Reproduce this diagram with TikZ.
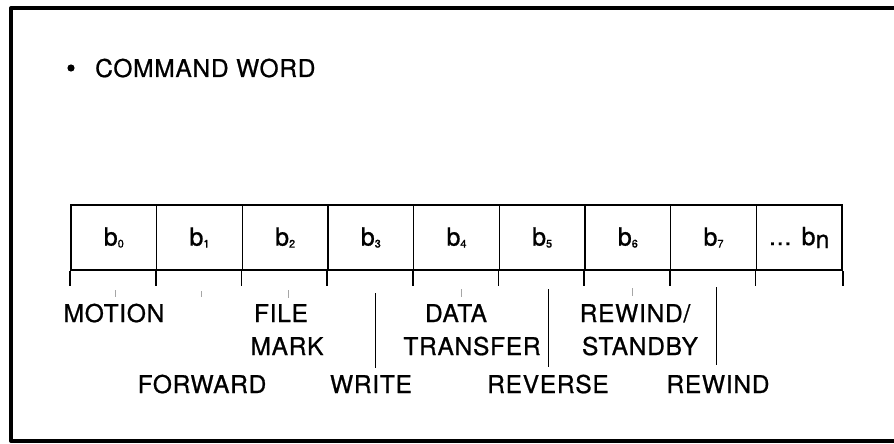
\documentclass[tikz,border=0pt]{standalone}
\usepackage{fontspec}
\setmainfont{TeX Gyre Heros}[LetterSpace=3,FakeBold=0.8]
\begin{document}
\begin{tikzpicture}[x=1pt,y=-1pt,
  frame/.style={line width=4pt,line join=round,line cap=round},
  cell/.style={draw,line width=1.6pt,minimum width=85.67pt,minimum height=65pt,inner sep=0pt,font=\fontsize{25}{30}\selectfont},
  lbl/.style={anchor=base,inner sep=0pt,font=\fontsize{24.5}{30}\selectfont},
  sep/.style={line width=0.8pt},
  faint/.style={line width=0.6pt,gray!70},
  tick/.style={line width=1.6pt}]
\useasboundingbox (0,0) rectangle (894,444);
\fill[white] (0,0) rectangle (894,444);
% frame (open on the right)
\draw[frame] (894,8) -- (11,8) -- (11,441) -- (894,441);
% heading
\fill (71,68) circle (3.6pt);
\node[lbl,anchor=base west] (head) at (95,77) {COMMAND WORD};
% register cells
\foreach \i/\t in {0/{b\raisebox{-2pt}{\fontsize{11}{12}\selectfont 0}},
                   1/{b\raisebox{-2pt}{\fontsize{11}{12}\selectfont 1}},
                   2/{b\raisebox{-2pt}{\fontsize{11}{12}\selectfont 2}},
                   3/{b\raisebox{-2pt}{\fontsize{11}{12}\selectfont 3}},
                   4/{b\raisebox{-2pt}{\fontsize{11}{12}\selectfont 4}},
                   5/{b\raisebox{-2pt}{\fontsize{11}{12}\selectfont 5}},
                   6/{b\raisebox{-2pt}{\fontsize{11}{12}\selectfont 6}},
                   7/{b\raisebox{-2pt}{\fontsize{11}{12}\selectfont 7}},
                   8/{... b\raisebox{-3pt}{n}}}{
  \node[cell] (c\i) at ({71+85.67*\i+42.835},237.5) {\t};
  \draw[tick] (c\i.south west) -- ++(0,15);
}
\draw[tick] (c8.south east) -- ++(0,15);
% labels
\node[lbl] (motion) at (114,322) {MOTION};
\node[lbl] (forward) at (202,393) {FORWARD};
\node[lbl] (file) at (281,322) {FILE};
\node[lbl] (mark) at (287,355) {MARK};
\node[lbl] (write) at (371,393) {WRITE};
\node[lbl] (data) at (456,322) {DATA};
\node[lbl] (transfer) at (472,355) {TRANSFER};
\node[lbl] (reverse) at (548,393) {REVERSE};
\node[lbl] (rewstb) at (635,322) {REWIND/};
\node[lbl] (standby) at (640,355) {STANDBY};
\node[lbl] (rewind) at (718,393) {REWIND};
% separators
\draw[sep] (375,293) -- (375,368);
\draw[sep] (548,289) -- (548,367);
\draw[sep] (716,287) -- (716,365);
% faint small marks
\foreach \x/\ya/\yb in {115/290/297,201/291/297,288/290/298,461/289/297,632/288/296}
  \draw[faint] (\x,\ya) -- (\x,\yb);
\end{tikzpicture}
\end{document}
